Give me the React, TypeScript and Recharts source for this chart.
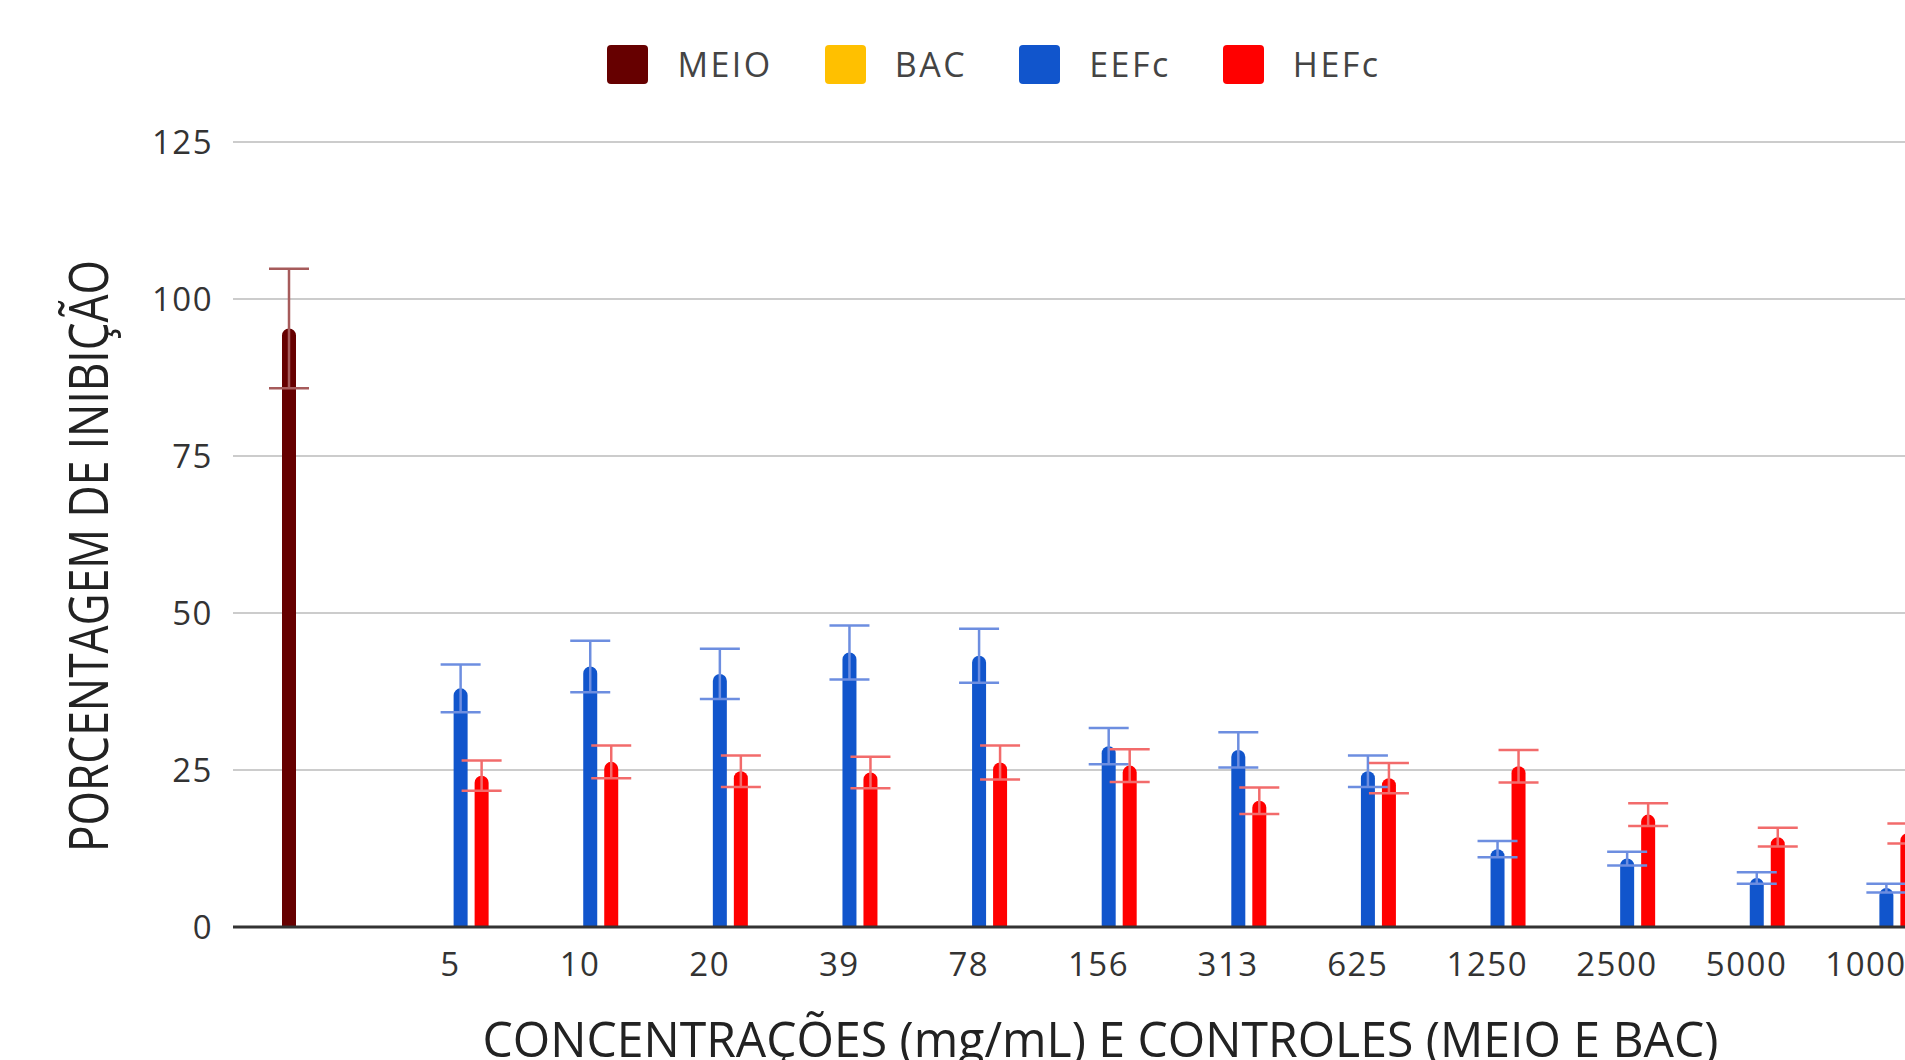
import React from "react";
import {
  BarChart,
  Bar,
  ErrorBar,
  XAxis,
  YAxis,
  CartesianGrid,
  Legend,
} from "recharts";

const CATEGORIES = ["", "5", "10", "20", "39", "78", "156", "313", "625", "1250", "2500", "5000", "10000"];

const MEIO = [95.3, null, null, null, null, null, null, null, null, null, null, null, null];
const MEIO_ERR = [9.5, null, null, null, null, null, null, null, null, null, null, null, null];
const BAC = [0, null, null, null, null, null, null, null, null, null, null, null, null];
const BAC_ERR = [0, null, null, null, null, null, null, null, null, null, null, null, null];
const EEFC = [null, 38.0, 41.5, 40.3, 43.7, 43.2, 28.8, 28.2, 24.8, 12.4, 10.9, 7.8, 6.2];
const EEFC_ERR = [null, 3.8, 4.1, 4.0, 4.3, 4.3, 2.9, 2.8, 2.5, 1.3, 1.1, 0.9, 0.7];
const HEFC = [null, 24.1, 26.3, 24.8, 24.6, 26.2, 25.7, 20.1, 23.7, 25.6, 17.9, 14.3, 14.9];
const HEFC_ERR = [null, 2.4, 2.6, 2.5, 2.5, 2.7, 2.6, 2.1, 2.4, 2.6, 1.8, 1.5, 1.6];

const Y_TICKS = [0, 25, 50, 75, 100, 125];

const SERIES = [
  { key: "meio", name: "MEIO", color: "#660000", errColor: "#a65b5b" },
  { key: "bac", name: "BAC", color: "#ffc000", errColor: "#e8c040" },
  { key: "eefc", name: "EEFc", color: "#1155cc", errColor: "#6d8ee0" },
  { key: "hefc", name: "HEFc", color: "#ff0000", errColor: "#f26b6b" },
];

const data = CATEGORIES.map((c, i) => ({
  label: c,
  meio: MEIO[i],
  meioErr: MEIO_ERR[i],
  bac: BAC[i],
  bacErr: BAC_ERR[i],
  eefc: EEFC[i],
  eefcErr: EEFC_ERR[i],
  hefc: HEFC[i],
  hefcErr: HEFC_ERR[i],
}));

const FONT = "'Open Sans', 'Noto Sans', sans-serif";
const TICK_STYLE = { fontSize: 33, fill: "#333", fontFamily: FONT, letterSpacing: 1.5 };

function renderLegend() {
  return (
    <div
      style={{
        height: 97,
        display: "flex",
        justifyContent: "center",
        alignItems: "flex-start",
        paddingLeft: 76,
        fontFamily: FONT,
      }}
    >
      {SERIES.map((s) => (
        <div key={s.key} style={{ display: "flex", alignItems: "center", marginRight: 52 }}>
          <div style={{ width: 41, height: 39, background: s.color, borderRadius: 4 }} />
          <span
            style={{
              marginLeft: 29,
              fontSize: 34,
              letterSpacing: 2.5,
              color: "#444",
              lineHeight: "39px",
            }}
          >
            {s.name}
          </span>
        </div>
      ))}
    </div>
  );
}

function XTitle(props: any) {
  const { viewBox } = props;
  const cx = viewBox.x + viewBox.width / 2 + 2;
  return (
    <text
      x={cx}
      y={viewBox.y + 130}
      textAnchor="middle"
      fontSize={49}
      fill="#222"
      fontFamily={FONT}
      textLength={1236}
      lengthAdjust="spacingAndGlyphs"
    >
      CONCENTRAÇÕES (mg/mL) E CONTROLES (MEIO E BAC)
    </text>
  );
}

function YTitle() {
  const x = 108;
  const y = 556;
  return (
    <text
      x={x}
      y={y}
      transform={`rotate(-90 ${x} ${y})`}
      textAnchor="middle"
      fontSize={54}
      fill="#222"
      fontFamily={FONT}
      textLength={592}
      lengthAdjust="spacingAndGlyphs"
    >
      PORCENTAGEM DE INIBIÇÃO
    </text>
  );
}

export default function App() {
  return (
    <div
      style={{
        position: "absolute",
        left: 0,
        top: 0,
        width: 1905,
        height: 1060,
        overflow: "hidden",
        background: "#fff",
      }}
    >
      <BarChart
        width={1974}
        height={1060}
        data={data}
        margin={{ top: 45, right: 10, bottom: 0, left: 0 }}
        barSize={14}
        barGap={7}
      >
        <CartesianGrid vertical={false} stroke="#cccccc" strokeWidth={2} />
        <XAxis
          dataKey="label"
          height={133}
          padding={{ left: 23, right: 23 }}
          axisLine={{ stroke: "#333", strokeWidth: 3 }}
          tickLine={false}
          tickSize={0}
          tickMargin={26}
          interval={0}
          tick={TICK_STYLE}
          label={<XTitle />}
        />
        <YAxis
          width={233}
          domain={[0, 125]}
          ticks={Y_TICKS}
          axisLine={false}
          tickLine={false}
          tickSize={0}
          tickMargin={20}
          tick={TICK_STYLE}
          label={<YTitle />}
        />
        <Legend verticalAlign="top" align="center" content={renderLegend} />
        {SERIES.map((s) => (
          <Bar
            key={s.key}
            dataKey={s.key}
            name={s.name}
            fill={s.color}
            radius={[7, 7, 0, 0]}
            isAnimationActive={false}
          >
            <ErrorBar
              dataKey={s.key + "Err"}
              width={20}
              stroke={s.errColor}
              strokeWidth={2.5}
              isAnimationActive={false}
            />
          </Bar>
        ))}
      </BarChart>
    </div>
  );
}
